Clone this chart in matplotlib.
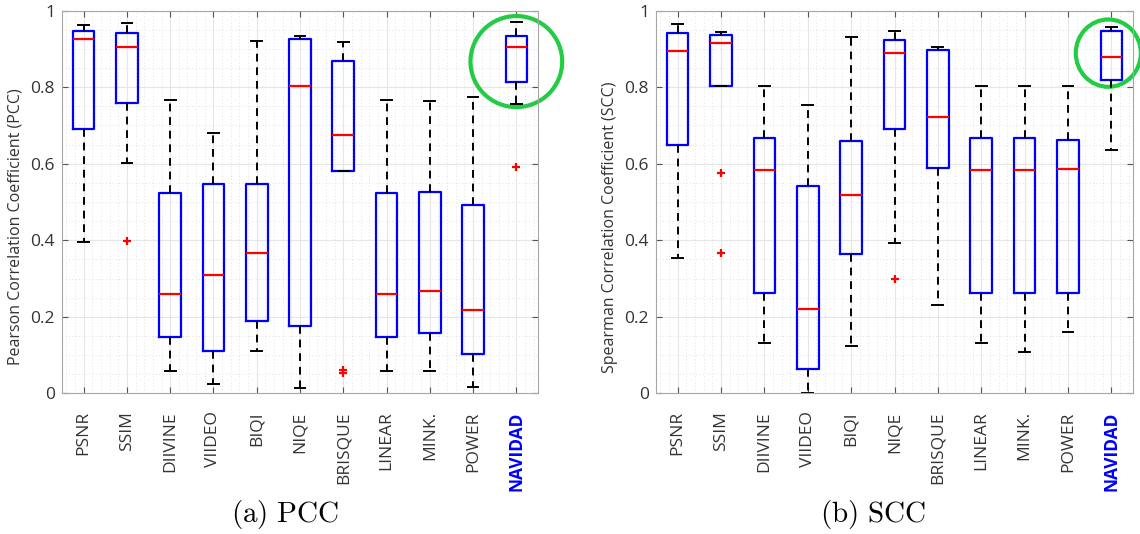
import matplotlib.pyplot as plt
from matplotlib.patches import Ellipse
from matplotlib.ticker import MultipleLocator

plt.rcParams['mathtext.fontset'] = 'cm'

methods = ['PSNR', 'SSIM', 'DIIVINE', 'VIIDEO', 'BIQI', 'NIQE', 'BRISQUE',
           'LINEAR', 'MINK.', 'POWER', 'NAVIDAD']

# PCC box statistics
pcc_whislo = [0.396, 0.601, 0.057, 0.024, 0.111, 0.015, 0.581, 0.057, 0.059, 0.016, 0.755]
pcc_q1 = [0.691, 0.760, 0.147, 0.111, 0.188, 0.175, 0.581, 0.147, 0.157, 0.102, 0.814]
pcc_med = [0.927, 0.906, 0.260, 0.308, 0.366, 0.804, 0.674, 0.260, 0.267, 0.217, 0.906]
pcc_q3 = [0.947, 0.941, 0.524, 0.547, 0.547, 0.927, 0.869, 0.524, 0.526, 0.492, 0.935]
pcc_whishi = [0.963, 0.969, 0.767, 0.679, 0.922, 0.935, 0.919, 0.767, 0.765, 0.775, 0.971]
pcc_fliers = [[], [0.399], [], [], [], [], [0.052, 0.060], [], [], [], [0.591]]

# SCC box statistics
scc_whislo = [0.353, 0.803, 0.132, 0.0, 0.124, 0.394, 0.232, 0.132, 0.109, 0.159, 0.636]
scc_q1 = [0.648, 0.803, 0.261, 0.063, 0.363, 0.692, 0.589, 0.261, 0.261, 0.261, 0.820]
scc_med = [0.895, 0.915, 0.584, 0.219, 0.518, 0.889, 0.723, 0.584, 0.584, 0.586, 0.878]
scc_q3 = [0.942, 0.937, 0.668, 0.542, 0.660, 0.923, 0.897, 0.668, 0.668, 0.662, 0.948]
scc_whishi = [0.965, 0.945, 0.804, 0.753, 0.932, 0.948, 0.906, 0.804, 0.804, 0.804, 0.958]
scc_fliers = [[], [0.575, 0.366], [], [], [], [0.300], [], [], [], [], []]


def make_stats(lo, q1, med, q3, hi, fliers):
    stats = []
    for i in range(len(methods)):
        stats.append({'whislo': lo[i], 'q1': q1[i], 'med': med[i], 'q3': q3[i],
                      'whishi': hi[i], 'fliers': fliers[i], 'label': methods[i]})
    return stats


def draw_panel(ax, stats, ylabel, circle_xy, circle_r):
    ax.bxp(stats, positions=range(1, 12), widths=0.5, showfliers=True,
           boxprops=dict(color='#0000ff', linewidth=1.6),
           medianprops=dict(color='#ff0000', linewidth=1.6),
           whiskerprops=dict(color='black', linewidth=1.4, linestyle=(0, (4, 3))),
           capprops=dict(color='black', linewidth=1.4),
           capwidths=0.25,
           flierprops=dict(marker='+', markeredgecolor='#ff0000', markersize=6,
                           markeredgewidth=1.6, linestyle='none'))
    ax.set_xlim(0.5, 11.5)
    ax.set_ylim(0, 1)
    ax.yaxis.set_minor_locator(MultipleLocator(0.05))
    ax.xaxis.set_minor_locator(MultipleLocator(0.2))
    ax.set_yticks([0, 0.2, 0.4, 0.6, 0.8, 1])
    ax.set_yticklabels(['0', '0.2', '0.4', '0.6', '0.8', '1'])
    ax.set_xticks(range(1, 12))
    ax.set_xticklabels(methods, rotation=90, fontfamily='Open Sans', fontsize=12.5,
                       color='#333333')
    lab = ax.get_xticklabels()[-1]
    lab.set_color('#0000ff')
    lab.set_fontweight('bold')
    for t in ax.get_yticklabels():
        t.set_fontfamily('Open Sans')
        t.set_fontsize(12.5)
        t.set_color('#333333')
    ax.grid(which='major', color='#e6e6e6', linewidth=0.8)
    ax.grid(which='minor', color='#d8d8d8', linewidth=0.6, linestyle=(0, (1, 3)))
    ax.tick_params(which='major', direction='in', length=4, top=True, right=True,
                   color='#555555')
    ax.tick_params(axis='x', which='major', pad=13)
    ax.tick_params(axis='y', which='major', pad=5)
    ax.tick_params(which='minor', length=0)
    for s in ax.spines.values():
        s.set_color('#a6a6a6')
    ax.set_ylabel(ylabel, fontfamily='Open Sans', fontsize=11.5, color='#333333')
    ax.yaxis.set_label_coords(-0.08, 0.435)
    ax.set_axisbelow(True)
    ax.add_patch(Ellipse(circle_xy, width=circle_r[0], height=circle_r[1], fill=False,
                         edgecolor='#22cc44', linewidth=3, clip_on=False))


fig = plt.figure(figsize=(11.4, 5.34), dpi=100)
ax1 = fig.add_axes([0.0544, 0.2635, 0.4175, 0.7165])
ax2 = fig.add_axes([0.5754, 0.2635, 0.4185, 0.7165])

draw_panel(ax1, make_stats(pcc_whislo, pcc_q1, pcc_med, pcc_q3, pcc_whishi, pcc_fliers),
           'Pearson Correlation Coefficient (PCC)', (11.0, 0.867), (2.12, 0.238))
draw_panel(ax2, make_stats(scc_whislo, scc_q1, scc_med, scc_q3, scc_whishi, scc_fliers),
           'Spearman Correlation Coefficient (SCC)', (10.93, 0.889), (1.5, 0.176))

fig.text(0.25, 0.036, r'$\mathrm{(a)\ PCC}$', ha='center', va='center', fontsize=21)
fig.text(0.766, 0.036, r'$\mathrm{(b)\ SCC}$', ha='center', va='center', fontsize=21)

fig.savefig('out.png', dpi=100)
